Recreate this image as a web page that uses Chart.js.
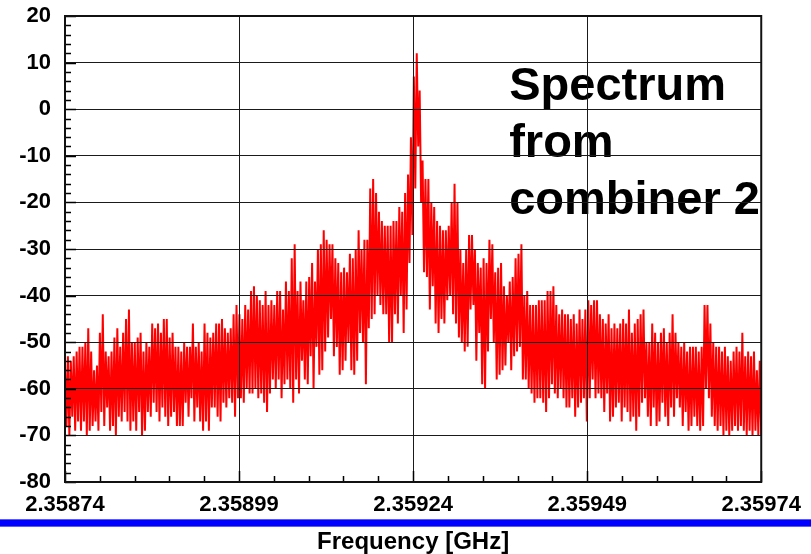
<!DOCTYPE html>
<html>
<head>
<meta charset="utf-8">
<script src="https://cdn.jsdelivr.net/npm/chart.js@4"></script>
<style>
  html, body { margin: 0; padding: 0; background: #fff; }
  #wrap { width: 811px; height: 554px; }
</style>
</head>
<body>
<div id="wrap"><canvas id="spectrum"></canvas></div>
<script>
// sweep span (GHz)
const freqStart = 2.35874;
const freqEnd = 2.35974;

const xTickLabels = ['2.35874', '2.35899', '2.35924', '2.35949', '2.35974'];
const yTickLabels = ['-80', '-70', '-60', '-50', '-40', '-30', '-20', '-10', '0', '10', '20'];

// tops of the trace spikes, left to right
const peakTops = [
  -54, -53, -54, -53, -52, -51, -51, -50, -47, -52,
  -56, -55, -48, -44, -52, -53, -52, -49, -47, -51,
  -48, -45, -43, -50, -50, -49, -48, -52, -50, -51,
  -46, -47, -46, -48, -45, -45, -49, -48, -51, -51,
  -52, -50, -51, -51, -46, -51, -50, -52, -46, -48,
  -49, -48, -46, -46, -45, -47, -48, -47, -44, -42,
  -44, -45, -42, -43, -39, -38, -40, -41, -42, -39,
  -42, -41, -42, -39, -39, -43, -37, -39, -32, -29,
  -39, -37, -41, -37, -36, -33, -37, -30, -29, -26,
  -28, -29, -29, -32, -33, -35, -34, -35, -31, -32,
  -30, -26, -30, -28, -28, -17, -15, -18, -22, -24,
  -25, -25, -25, -24, -24, -21, -22, -18, -14, -6,
  7, 12, 4, -11, -15, -15, -20, -21, -24, -25,
  -26, -26, -25, -20, -16, -20, -30, -33, -30, -27,
  -27, -30, -33, -34, -32, -33, -28, -29, -35, -34,
  -33, -38, -40, -37, -36, -32, -31, -29, -40, -39,
  -42, -42, -42, -41, -41, -41, -39, -39, -38, -42,
  -44, -43, -44, -44, -45, -44, -46, -43, -45, -43,
  -41, -42, -41, -41, -44, -45, -46, -44, -47, -46,
  -47, -46, -45, -46, -43, -48, -46, -45, -44, -43,
  -50, -50, -46, -48, -50, -48, -47, -50, -48, -44,
  -48, -50, -51, -50, -52, -51, -51, -51, -52, -51,
  -42, -42, -46, -50, -51, -51, -52, -51, -53, -54,
  -52, -51, -52, -48, -53, -52, -53, -52, -56, -54
];

// bottoms between the spikes, left to right
const troughBottoms = [
  -68, -70, -66, -69, -67, -69, -67, -70, -69, -68,
  -67, -69, -65, -68, -64, -69, -68, -70, -66, -67,
  -65, -67, -69, -67, -69, -65, -70, -69, -65, -66,
  -63, -65, -67, -64, -66, -68, -66, -65, -68, -68,
  -68, -63, -66, -62, -67, -64, -67, -69, -67, -69,
  -64, -64, -66, -67, -63, -64, -62, -63, -66, -62,
  -62, -63, -60, -61, -61, -60, -62, -61, -63, -65,
  -61, -58, -60, -58, -62, -59, -58, -60, -63, -58,
  -61, -54, -58, -59, -53, -60, -51, -57, -56, -52,
  -49, -45, -53, -51, -57, -56, -54, -50, -56, -57,
  -54, -48, -50, -59, -47, -45, -44, -40, -42, -44,
  -44, -50, -50, -44, -46, -40, -48, -43, -33, -27,
  -17, -8, -20, -35, -36, -43, -38, -46, -48, -45,
  -46, -41, -40, -44, -46, -49, -50, -52, -51, -43,
  -42, -54, -48, -59, -60, -52, -45, -50, -58, -57,
  -56, -55, -50, -56, -53, -52, -51, -58, -58, -60,
  -61, -63, -62, -62, -63, -65, -62, -59, -61, -62,
  -60, -62, -64, -64, -62, -66, -64, -63, -62, -67,
  -62, -58, -62, -61, -62, -65, -61, -67, -66, -64,
  -63, -67, -64, -65, -67, -66, -69, -66, -63, -62,
  -66, -68, -64, -68, -67, -63, -66, -68, -64, -66,
  -62, -64, -68, -65, -69, -68, -66, -68, -69, -68,
  -60, -62, -66, -68, -69, -68, -70, -69, -70, -69,
  -68, -69, -68, -69, -70, -69, -70, -69, -70, -70
];

const noteLines = ['Spectrum', 'from', 'combiner 2'];
const noteFreq = 2.359378;
const noteLevel = 2;

const fontFamily = "'Liberation Sans', Arial, Helvetica, sans-serif";

// interleave tops and bottoms into one trace on a uniform frequency grid
const level = [];
peakTops.forEach((v, i) => { level.push(v, troughBottoms[i]); });
const step = (freqEnd - freqStart) / (level.length - 1);
const points = level.map((y, i) => ({ x: freqStart + i * step, y: y }));

// frame, minor ticks, annotation and the blue rule under the axis
const decorations = {
  id: 'decorations',
  beforeDatasetsDraw(chart) {
    const { ctx, scales } = chart;
    ctx.save();
    ctx.fillStyle = '#000';
    ctx.font = 'bold 47px ' + fontFamily;
    ctx.textBaseline = 'alphabetic';
    const x0 = scales.x.getPixelForValue(noteFreq);
    const y0 = scales.y.getPixelForValue(noteLevel);
    noteLines.forEach((t, i) => ctx.fillText(t, x0, y0 + i * 57));
    ctx.restore();
  },
  afterDraw(chart) {
    const { ctx, chartArea: a, scales } = chart;
    ctx.save();
    ctx.strokeStyle = '#000';
    ctx.lineWidth = 1.5;
    ctx.beginPath();
    // y minor ticks every 2
    for (let v = -80; v <= 20; v += 2) {
      const py = Math.round(scales.y.getPixelForValue(v)) + 0.5;
      const len = v % 10 === 0 ? 11 : 6;
      ctx.moveTo(a.left, py);
      ctx.lineTo(a.left + len, py);
    }
    // x minor ticks every 0.00005
    for (let i = 0; i <= 20; i++) {
      const px = Math.round(scales.x.getPixelForValue(freqStart + i * 0.00005)) + 0.5;
      const len = i % 5 === 0 ? 11 : 6;
      ctx.moveTo(px, a.bottom);
      ctx.lineTo(px, a.bottom - len);
    }
    ctx.stroke();

    ctx.lineWidth = 2;
    ctx.strokeStyle = '#111';
    ctx.strokeRect(a.left, a.top, a.right - a.left, a.bottom - a.top);

    ctx.fillStyle = '#5a5aff';
    ctx.fillRect(0, 519, chart.width, 8);
    ctx.fillStyle = '#0000ff';
    ctx.fillRect(0, 520, chart.width, 6);
    ctx.restore();
  }
};

new Chart(document.getElementById('spectrum'), {
  type: 'line',
  data: {
    datasets: [{
      data: points,
      borderColor: '#ff0000',
      borderWidth: 2,
      pointRadius: 0,
      tension: 0,
      fill: false
    }]
  },
  options: {
    responsive: true,
    maintainAspectRatio: false,
    animation: false,
    parsing: false,
    layout: { padding: { left: 0, right: 48, top: 16, bottom: 0 } },
    plugins: { legend: { display: false }, tooltip: { enabled: false } },
    scales: {
      x: {
        type: 'linear',
        min: freqStart,
        max: freqEnd,
        afterFit: (s) => { s.height = 72; },
        ticks: {
          stepSize: 0.00025,
          maxRotation: 0,
          autoSkip: false,
          padding: 10,
          color: '#000',
          font: { family: fontFamily, size: 22, weight: 'bold' },
          callback: (v, i) => xTickLabels[i]
        },
        grid: { color: '#1a1a1a', lineWidth: 1, drawTicks: false, z: 1 },
        border: { color: '#000', width: 2, z: 1 },
        title: {
          display: true,
          text: 'Frequency [GHz]',
          color: '#000',
          font: { family: fontFamily, size: 24, weight: 'bold' },
          padding: { top: 0, bottom: -3 }
        }
      },
      y: {
        min: -80,
        max: 20,
        afterFit: (s) => { s.width = 65; },
        ticks: {
          stepSize: 10,
          padding: 0,
          color: '#000',
          font: { family: fontFamily, size: 22, weight: 'bold' },
          callback: (v, i) => yTickLabels[i]
        },
        grid: { color: '#1a1a1a', lineWidth: 1, drawTicks: true, tickLength: 14, tickColor: 'rgba(0,0,0,0)', z: 1 },
        border: { color: '#000', width: 2, z: 1 }
      }
    }
  },
  plugins: [decorations]
});
</script>
</body>
</html>
